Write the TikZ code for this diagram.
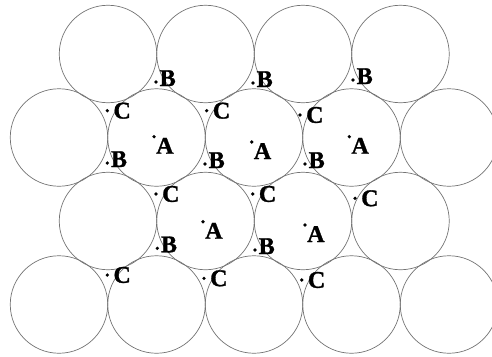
\documentclass[tikz,border=0pt]{standalone}
\usepackage{fontspec}
\setmainfont{Liberation Serif}[BoldFeatures={FakeBold=1.2}]
\tikzset{
  ball/.style={draw=black!55, line width=0.7pt},
  ptdot/.style={circle, fill=black, inner sep=0pt, minimum size=3.6pt},
  letter/.style={font=\bfseries\fontsize{24}{24}\selectfont, inner sep=0pt},
  txtA/.style={letter, anchor=north west, xshift=0pt, yshift=-1pt},
  txtB/.style={letter, anchor=base west, xshift=1.5pt, yshift=-4pt},
  txtC/.style={letter, anchor=west, xshift=4pt},
}
\begin{document}
\begin{tikzpicture}[x=1pt, y=-1pt]
  \useasboundingbox (0,0) rectangle (492,356);
  \clip (0,0) rectangle (492,356);
  % first row
  \draw[ball] (108,54) circle (48.75pt);
  \draw[ball] (205.5,54) circle (48.75pt);
  \draw[ball] (303,54) circle (48.75pt);
  \draw[ball] (400.5,54) circle (48.75pt);
  % second row
  \draw[ball] (59,137.5) circle (48.75pt);
  \draw[ball] (156.5,137.5) circle (48.75pt);
  \draw[ball] (254,137.5) circle (48.75pt);
  \draw[ball] (351.5,137.5) circle (48.75pt);
  \draw[ball] (449,137.5) circle (48.75pt);
  % third row
  \draw[ball] (108,221) circle (48.75pt);
  \draw[ball] (205.5,221) circle (48.75pt);
  \draw[ball] (303,221) circle (48.75pt);
  \draw[ball] (400.5,221) circle (48.75pt);
  % fourth row
  \draw[ball] (59,304.5) circle (48.75pt);
  \draw[ball] (156.5,304.5) circle (48.75pt);
  \draw[ball] (254,304.5) circle (48.75pt);
  \draw[ball] (351.5,304.5) circle (48.75pt);
  \draw[ball] (449,304.5) circle (48.75pt);
  % sites A
  \node[ptdot] (a1) at (154,136.7) {};  \node[txtA] (a1t) at (a1.east) {A};
  \node[ptdot] (a2) at (251.7,142) {};  \node[txtA] (a2t) at (a2.east) {A};
  \node[ptdot] (a3) at (349.3,136.7) {};  \node[txtA] (a3t) at (a3.east) {A};
  \node[ptdot] (a4) at (203,221.7) {};  \node[txtA] (a4t) at (a4.east) {A};
  \node[ptdot] (a5) at (305,225) {};  \node[txtA] (a5t) at (a5.east) {A};
  % sites B
  \node[ptdot] (b1) at (156,82) {};  \node[txtB] (b1t) at (b1.east) {B};
  \node[ptdot] (b2) at (253,83) {};  \node[txtB] (b2t) at (b2.east) {B};
  \node[ptdot] (b3) at (353,80) {};  \node[txtB] (b3t) at (b3.east) {B};
  \node[ptdot] (b4) at (107.3,163) {};  \node[txtB] (b4t) at (b4.east) {B};
  \node[ptdot] (b5) at (205,164) {};  \node[txtB] (b5t) at (b5.east) {B};
  \node[ptdot] (b6) at (305,164) {};  \node[txtB] (b6t) at (b6.east) {B};
  \node[ptdot] (b7) at (157.3,248.3) {};  \node[txtB] (b7t) at (b7.east) {B};
  \node[ptdot] (b8) at (255,250) {};  \node[txtB] (b8t) at (b8.east) {B};
  % sites C
  \node[ptdot] (c1) at (107.3,110.7) {};  \node[txtC] (c1t) at (c1.east) {C};
  \node[ptdot] (c2) at (206.7,110.7) {};  \node[txtC] (c2t) at (c2.east) {C};
  \node[ptdot] (c3) at (300,115) {};  \node[txtC] (c3t) at (c3.east) {C};
  \node[ptdot] (c4) at (156,194) {};  \node[txtC] (c4t) at (c4.east) {C};
  \node[ptdot] (c5) at (252.7,194) {};  \node[txtC] (c5t) at (c5.east) {C};
  \node[ptdot] (c6) at (355,198.3) {};  \node[txtC] (c6t) at (c6.east) {C};
  \node[ptdot] (c7) at (107.3,275) {};  \node[txtC] (c7t) at (c7.east) {C};
  \node[ptdot] (c8) at (204,278.3) {};  \node[txtC] (c8t) at (c8.east) {C};
  \node[ptdot] (c9) at (301.7,280) {};  \node[txtC] (c9t) at (c9.east) {C};
\end{tikzpicture}
\end{document}
